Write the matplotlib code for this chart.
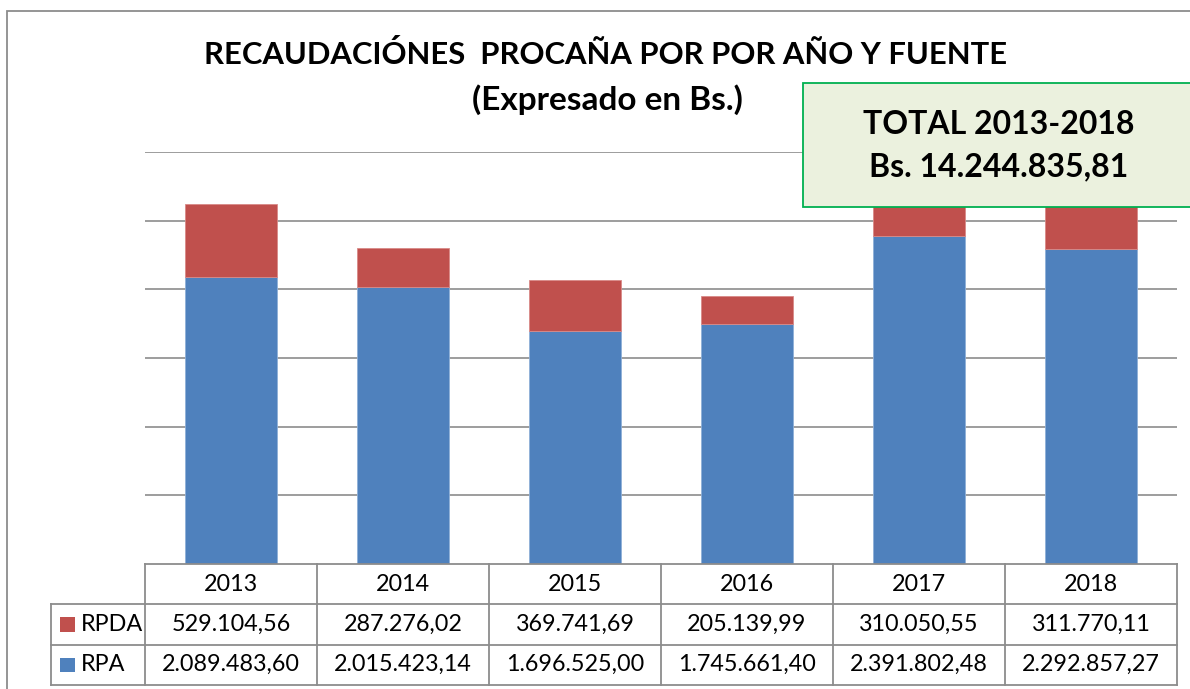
import matplotlib.pyplot as plt
from matplotlib.patches import Rectangle

plt.rcParams['font.family'] = ['Lato', 'DejaVu Sans']

# data
years = ['2013', '2014', '2015', '2016', '2017', '2018']
rpa = [2089483.60, 2015423.14, 1696525.00, 1745661.40, 2391802.48, 2292857.27]
rpda = [529104.56, 287276.02, 369741.69, 205139.99, 310050.55, 311770.11]
series_names = ['RPDA', 'RPA']
total_label = 'Bs. 14.244.835,81'

BLUE = '#4F81BD'
RED = '#C0504D'
GRID = '#8c8c8c'

W, H = 1190, 689


def fmt(v):
    # spanish style number: 1.234.567,89
    s = f'{v:,.2f}'
    return s.replace(',', '#').replace('.', ',').replace('#', '.')


fig = plt.figure(figsize=(W / 100, H / 100), dpi=100)

# outer chart border (cropped at right and bottom)
fig.add_artist(Rectangle((7 / W, -0.1), 2.0, 1.1 - 11 / H, transform=fig.transFigure,
                         fill=False, edgecolor=GRID, linewidth=1.3, zorder=0))

# main plot area
ax = fig.add_axes([145 / W, (H - 564) / H, (1177 - 145) / W, (564 - 152) / H])
x = list(range(len(years)))
ax.bar(x, rpa, width=0.535, color=BLUE, edgecolor='#8fb0d8', linewidth=0.6, zorder=3)
ax.bar(x, rpda, width=0.535, bottom=rpa, color=RED, edgecolor='#d88a88', linewidth=0.6, zorder=3)
ax.set_xlim(-0.5, 5.5)
ax.set_ylim(0, 3000000)
ax.set_yticks(range(500000, 3000001, 500000))
ax.yaxis.grid(True, color=GRID, linewidth=1.2)
ax.set_axisbelow(True)
ax.tick_params(left=False, bottom=False, labelleft=False, labelbottom=False)
for sp in ax.spines.values():
    sp.set_visible(False)

# data table under the bars
cw = 172.0
lab_w = (145 - 51) / cw
tax = fig.add_axes([51 / W, (H - 685) / H, (1177 - 51) / W, (685 - 564) / H])
tax.set_xlim(-0.5 - lab_w, 5.5)
tax.set_ylim(3, 0)
tax.axis('off')
lkw = dict(color=GRID, linewidth=1.3, clip_on=False)
tax.plot([-0.5, 5.5], [0, 0], **lkw)
for yy in (1, 2, 3):
    tax.plot([-0.5 - lab_w, 5.5], [yy, yy], **lkw)
for xx in [i - 0.5 for i in range(7)]:
    tax.plot([xx, xx], [0, 3], **lkw)
tax.plot([-0.5 - lab_w, -0.5 - lab_w], [1, 3], **lkw)

tkw = dict(ha='center', va='center', fontsize=16.8, color='black')
for i, yr in enumerate(years):
    tax.text(i, 0.5, yr, **tkw)
    tax.text(i, 1.5, fmt(rpda[i]), **tkw)
    tax.text(i, 2.5, fmt(rpa[i]), **tkw)

for row, (name, col) in enumerate(zip(series_names, [RED, BLUE])):
    tax.add_patch(Rectangle((-0.5 - lab_w + 9 / cw, row + 1.5 - 0.18), 15 / cw, 0.36,
                            facecolor=col, edgecolor='none'))
    tax.text(-0.5 - lab_w + 30 / cw, row + 1.5, name, ha='left', va='center',
             fontsize=16.8, color='black')

# titles
fig.text(606 / W, 1 - 55 / H, 'RECAUDACIÓNES  PROCAÑA POR POR AÑO Y FUENTE',
         ha='center', va='center', fontsize=22.3, fontweight='bold')
fig.text(607 / W, 1 - 100 / H, '(Expresado en Bs.)',
         ha='center', va='center', fontsize=24, fontweight='bold')

# total box
fig.add_artist(Rectangle((803 / W, 1 - 207 / H), 400 / W, 124 / H, transform=fig.transFigure,
                         facecolor='#EBF1DE', edgecolor='#00B050', linewidth=1.3, zorder=5))
fig.text(999 / W, 1 - 125 / H, 'TOTAL 2013-2018', ha='center', va='center',
         fontsize=23, fontweight='bold', zorder=6)
fig.text(999 / W, 1 - 167 / H, total_label, ha='center', va='center',
         fontsize=23, fontweight='bold', zorder=6)

fig.savefig('out.png', dpi=100)
